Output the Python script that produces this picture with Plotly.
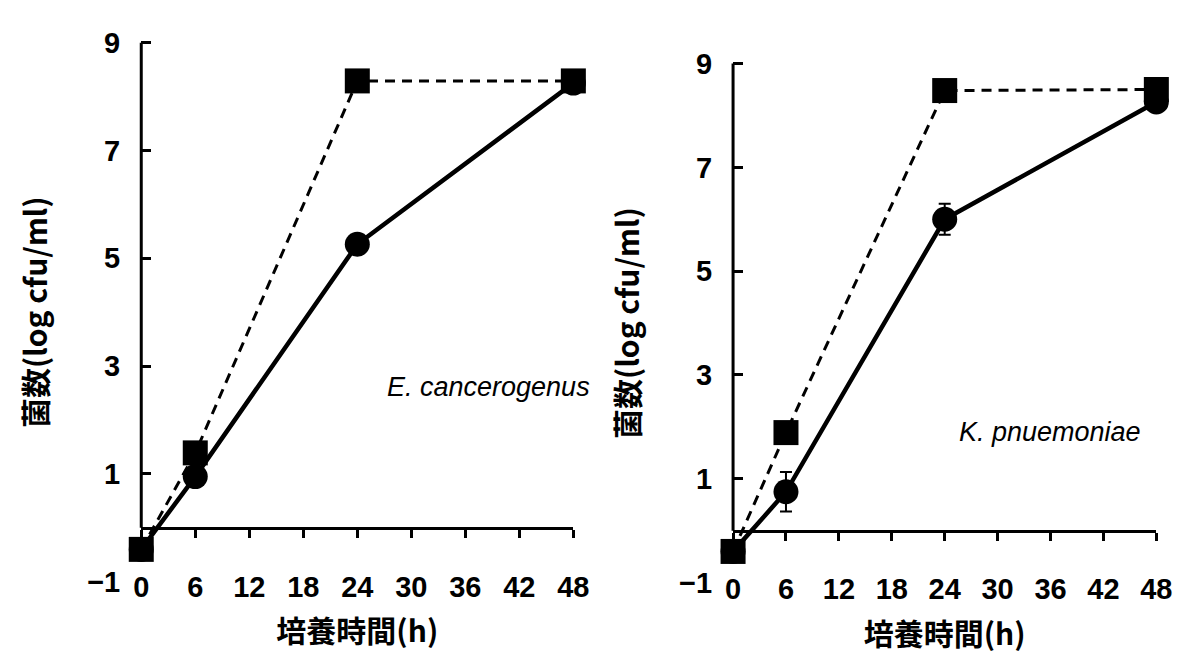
import plotly.graph_objects as go

# ---- data ----
HOURS = [0, 6, 24, 48]
X_TICKS = [0, 6, 12, 18, 24, 30, 36, 42, 48]
Y_TICKS = [-1, 1, 3, 5, 7, 9]
Y_MINOR = [1, 3, 5, 7, 9]

EC_CIRCLE = [-0.4, 0.95, 5.26, 8.25]
EC_SQUARE = [-0.4, 1.39, 8.29, 8.29]

KP_CIRCLE = [-0.4, 0.75, 6.0, 8.26]
KP_CIRCLE_ERR = [0.05, 0.38, 0.30, 0.08]
KP_SQUARE = [-0.4, 1.89, 8.48, 8.50]

PANEL_LABELS = ["E. cancerogenus", "K. pnuemoniae"]
LABEL_POS = [(38.6, 2.61), (35.9, 1.9)]
X_TITLE = "培養時間(h)"
Y_TITLE = "菌数(log cfu/ml)"

# ---- layout geometry ----
W, H = 1189, 657
X_DOMAINS = [[136 / W, 577 / W], [740 / W, 1172 / W]]
Y_DOMAINS = [[1 - 594.7 / H, 1 - 28 / H], [1 - 595.6 / H, 1 - 50 / H]]
Y_RANGE = [-1, 9]
X_RANGE = [0, 48]

TICK_FONT = dict(family="Liberation Sans, Arial, sans-serif",
                 size=29, color="black", weight="bold")
TITLE_FONT = dict(family="Noto Sans CJK JP, sans-serif", size=30, color="black", weight="bold")

fig = go.Figure()

panels = [
    (EC_CIRCLE, None, EC_SQUARE),
    (KP_CIRCLE, KP_CIRCLE_ERR, KP_SQUARE),
]

for i, (circ, err, sq) in enumerate(panels):
    xa = "x" if i == 0 else f"x{i+1}"
    ya = "y" if i == 0 else f"y{i+1}"
    circ_kwargs = {}
    if err is not None:
        circ_kwargs["error_y"] = dict(type="data", array=err, visible=True,
                                      color="black", thickness=2, width=6)
    fig.add_trace(go.Scatter(
        x=HOURS, y=circ, mode="lines+markers", xaxis=xa, yaxis=ya,
        line=dict(color="black", width=4.5),
        marker=dict(symbol="circle", size=25, color="black", line=dict(width=0)),
        cliponaxis=False, showlegend=False, **circ_kwargs))
    fig.add_trace(go.Scatter(
        x=HOURS, y=sq, mode="lines+markers", xaxis=xa, yaxis=ya,
        line=dict(color="black", width=3, dash="10px,7px"),
        marker=dict(symbol="square", size=25, color="black", line=dict(width=0)),
        cliponaxis=False, showlegend=False))

layout = dict(
    width=W, height=H,
    margin=dict(l=0, r=0, t=0, b=0),
    paper_bgcolor="white", plot_bgcolor="white",
    showlegend=False,
    shapes=[], annotations=[],
)

for i in range(2):
    xkey = "xaxis" if i == 0 else f"xaxis{i+1}"
    ykey = "yaxis" if i == 0 else f"yaxis{i+1}"
    xa = "x" if i == 0 else f"x{i+1}"
    yd = Y_DOMAINS[i]
    zero_pos = yd[0] + (0 - Y_RANGE[0]) / (Y_RANGE[1] - Y_RANGE[0]) * (yd[1] - yd[0])
    layout[xkey] = dict(
        domain=X_DOMAINS[i], range=X_RANGE, anchor="free", position=zero_pos,
        tickmode="array", tickvals=X_TICKS,
        showline=True, linecolor="black", linewidth=3,
        ticks="outside", ticklen=8, tickwidth=3, tickcolor="black",
        ticklabelstandoff=24,
        tickfont=TICK_FONT, showgrid=False, zeroline=False,
        title=dict(text=X_TITLE, font=TITLE_FONT, standoff=19),
    )
    layout[ykey] = dict(
        domain=yd, range=Y_RANGE, anchor=xa,
        tickmode="array", tickvals=Y_TICKS, ticktext=["−1" if v < 0 else str(v) for v in Y_TICKS],
        ticks="", showline=False, showgrid=False, zeroline=False,
        minor=dict(tickmode="array", tickvals=Y_MINOR, ticks="inside", ticklen=10,
                   tickwidth=3, tickcolor="black", showgrid=False),
        ticklabelstandoff=20,
        tickfont=TICK_FONT,
        title=dict(text=Y_TITLE, font=TITLE_FONT, standoff=30),
    )
    # vertical axis line from y=0 up to the top tick
    layout["shapes"].append(dict(
        type="line", xref="paper", yref="paper",
        x0=X_DOMAINS[i][0], x1=X_DOMAINS[i][0], y0=zero_pos, y1=yd[1],
        line=dict(color="black", width=3), layer="above"))

layout["annotations"] = [
    dict(text=PANEL_LABELS[k], xref="x" if k == 0 else "x2", yref="y" if k == 0 else "y2",
         x=LABEL_POS[k][0], y=LABEL_POS[k][1], xanchor="center", yanchor="middle",
         showarrow=False,
         font=dict(family="Liberation Sans, Arial", size=27, style="italic", color="black"))
    for k in range(2)
]

fig.update_layout(**layout)
fig.write_html("out.html")
